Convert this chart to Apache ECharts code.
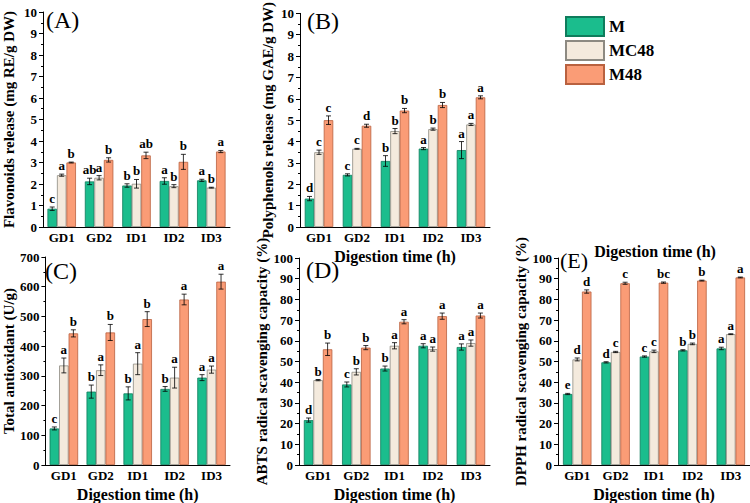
<!DOCTYPE html>
<html><head><meta charset="utf-8">
<script src="https://cdn.jsdelivr.net/npm/echarts@6/dist/echarts.min.js"></script>
<style>html,body{margin:0;padding:0;background:#fff}#c{width:750px;height:503px}</style>
</head><body><div id="c"></div>
<script>
const categories = ['GD1','GD2','ID1','ID2','ID3'];
const seriesNames = ['M','MC48','M48'];

// (A) Flavonoids release
const flavM = [0.85, 2.12, 1.93, 2.14, 2.17];
const flavMC48 = [2.41, 2.29, 2.01, 1.90, 1.83];
const flavM48 = [3.00, 3.12, 3.33, 3.03, 3.51];
const flavErrM = [0.08, 0.15, 0.08, 0.15, 0.05];
const flavErrMC48 = [0.05, 0.10, 0.20, 0.07, 0.02];
const flavErrM48 = [0.02, 0.10, 0.15, 0.35, 0.05];
const flavLetM = ['c','ab','b','a','a'];
const flavLetMC48 = ['a','a','b','b','b'];
const flavLetM48 = ['b','b','ab','b','a'];

// (B) Polyphenols release
const polyM = [1.33, 2.44, 3.09, 3.67, 3.60];
const polyMC48 = [3.50, 3.66, 4.49, 4.58, 4.80];
const polyM48 = [5.00, 4.74, 5.45, 5.71, 6.07];
const polyErrM = [0.10, 0.05, 0.25, 0.05, 0.40];
const polyErrMC48 = [0.10, 0.02, 0.12, 0.05, 0.05];
const polyErrM48 = [0.20, 0.07, 0.10, 0.12, 0.07];
const polyLetM = ['d','c','b','a','a'];
const polyLetMC48 = ['c','c','b','b','a'];
const polyLetM48 = ['c','d','b','b','a'];

// (C) Total antioxidant
const taM = [123, 247, 241, 256, 294];
const taMC48 = [335, 319, 341, 294, 321];
const taM48 = [443, 446, 491, 557, 617];
const taErrM = [5, 22, 22, 8, 10];
const taErrMC48 = [25, 18, 37, 35, 12];
const taErrM48 = [12, 27, 25, 18, 25];
const taLetM = ['c','b','b','b','a'];
const taLetMC48 = ['a','a','a','a','a'];
const taLetM48 = ['b','b','b','a','a'];

// (D) ABTS radical scavenging capacity
const abtsM = [21.7, 38.9, 46.6, 57.6, 57.0];
const abtsMC48 = [41.0, 45.0, 57.6, 56.0, 58.9];
const abtsM48 = [55.9, 56.7, 69.2, 71.9, 72.2];
const abtsErrM = [1.0, 1.2, 1.2, 1.0, 1.5];
const abtsErrMC48 = [0.3, 1.5, 1.5, 1.0, 1.5];
const abtsErrM48 = [3.0, 1.0, 1.0, 1.5, 1.2];
const abtsLetM = ['d','c','b','a','a'];
const abtsLetMC48 = ['b','b','a','a','a'];
const abtsLetM48 = ['b','b','a','a','a'];

// (E) DPPH radical scavenging capacity
const dpphM = [34.3, 49.6, 52.4, 55.4, 56.3];
const dpphMC48 = [51.0, 54.6, 54.9, 58.5, 63.2];
const dpphM48 = [83.8, 87.8, 88.1, 89.1, 90.6];
const dpphErrM = [0.3, 0.3, 0.3, 0.3, 0.6];
const dpphErrMC48 = [0.7, 0.3, 0.6, 0.4, 0.2];
const dpphErrM48 = [0.8, 0.5, 0.3, 0.2, 0.2];
const dpphLetM = ['e','d','c','b','a'];
const dpphLetMC48 = ['d','c','c','b','a'];
const dpphLetM48 = ['d','c','bc','b','a'];

const xTitle = 'Digestion time (h)';

const FONT = "'Liberation Serif','Times New Roman',serif";
const fills = ['#1bbd8d', '#f4eadd', '#fa9c76'];
const borders = ['#0f7c5c', '#8d8a82', '#b9613f'];
const BW = 9.5;

const panels = [
  {label:'(A)', yName:'Flavonoids release (mg RE/g DW)', max:10, interval:1,
   means:[flavM,flavMC48,flavM48], errs:[flavErrM,flavErrMC48,flavErrM48], lets:[flavLetM,flavLetMC48,flavLetM48],
   grid:{left:40, top:12, width:190, height:215}, nameGap:27, xName:'', lab:[46,8], fs:24},
  {label:'(B)', yName:'Polyphenols release (mg GAE/g DW)', max:10, interval:1,
   means:[polyM,polyMC48,polyM48], errs:[polyErrM,polyErrMC48,polyErrM48], lets:[polyLetM,polyLetMC48,polyLetM48],
   grid:{left:300, top:12, width:190, height:215}, nameGap:25, xName:xTitle, lab:[307,9], fs:24},
  {label:'(C)', yName:'Total antioxidant (U/g)', max:700, interval:100,
   means:[taM,taMC48,taM48], errs:[taErrM,taErrMC48,taErrM48], lets:[taLetM,taLetMC48,taLetM48],
   grid:{left:40, top:257, width:190, height:215}, nameGap:27, xName:xTitle, lab:[45,259], fs:24},
  {label:'(D)', yName:'ABTS radical scavenging capacity (%)', max:100, interval:10,
   means:[abtsM,abtsMC48,abtsM48], errs:[abtsErrM,abtsErrMC48,abtsErrM48], lets:[abtsLetM,abtsLetMC48,abtsLetM48],
   grid:{left:299, top:258, width:191, height:213}, nameGap:29, xName:xTitle, lab:[306,258], fs:24},
  {label:'(E)', yName:'DPPH radical scavenging capacity (%)', max:100, interval:10,
   means:[dpphM,dpphMC48,dpphM48], errs:[dpphErrM,dpphErrMC48,dpphErrM48], lets:[dpphLetM,dpphLetMC48,dpphLetM48],
   grid:{left:558, top:258, width:196, height:214}, nameGap:30, xName:xTitle, lab:[560,249], fs:22}
];

const grids = [], xAxes = [], yAxes = [], series = [], graphics = [];
panels.forEach((p, i) => {
  grids.push(Object.assign({containLabel:false}, p.grid));
  xAxes.push({
    type:'category', gridIndex:i, data:categories,
    axisLine:{lineStyle:{color:'#000', width:1}}, axisTick:{show:false},
    axisLabel:{color:'#000', fontFamily:FONT, fontWeight:'bold', fontSize:13, margin:4},
    name:p.xName, nameLocation:'middle', nameGap:21,
    nameTextStyle:{color:'#000', fontFamily:FONT, fontWeight:'bold', fontSize:16}
  });
  yAxes.push({
    type:'value', gridIndex:i, min:0, max:p.max, interval:p.interval,
    axisLine:{show:true, lineStyle:{color:'#000', width:1}},
    axisTick:{show:true, inside:false, length:4, lineStyle:{color:'#000'}},
    minorTick:{show:true, splitNumber:2, length:2, lineStyle:{color:'#000'}},
    splitLine:{show:false},
    axisLabel:{color:'#000', fontFamily:FONT, fontWeight:'bold', fontSize:13, margin:6},
    name:p.yName, nameLocation:'middle', nameGap:p.nameGap, nameRotate:90,
    nameTextStyle:{color:'#000', fontFamily:FONT, fontWeight:'bold', fontSize:15}
  });
  seriesNames.forEach((sn, k) => {
    series.push({
      type:'bar', name:sn, xAxisIndex:i, yAxisIndex:i,
      data:p.means[k], barWidth:BW, barGap:'0%',
      itemStyle:{color:fills[k], borderColor:borders[k], borderWidth:0.8},
      emphasis:{disabled:true}, z:2
    });
  });
  seriesNames.forEach((sn, k) => {
    const data = categories.map((c, j) => [j, p.means[k][j], p.errs[k][j], p.lets[k][j]]);
    series.push({
      type:'custom', name:sn + ' err', xAxisIndex:i, yAxisIndex:i, data:data, z:5,
      silent:true,
      renderItem:(params, api) => {
        const x = api.value(0), m = api.value(1), e = api.value(2);
        const letter = data[params.dataIndex][3];
        const off = (k - 1) * BW;
        const top = api.coord([x, m + e]);
        const bot = api.coord([x, m - e]);
        const cx = top[0] + off;
        const cap = 2.5;
        return {type:'group', children:[
          {type:'line', shape:{x1:cx, y1:top[1], x2:cx, y2:bot[1]}, style:{stroke:'#000', lineWidth:0.8}},
          {type:'line', shape:{x1:cx-cap, y1:top[1], x2:cx+cap, y2:top[1]}, style:{stroke:'#000', lineWidth:0.8}},
          {type:'line', shape:{x1:cx-cap, y1:bot[1], x2:cx+cap, y2:bot[1]}, style:{stroke:'#000', lineWidth:0.8}},
          {type:'text', x:cx, y:top[1]-2, style:{text:letter, fill:'#000', font:'bold 13px ' + FONT, textAlign:'center', textVerticalAlign:'bottom'}}
        ]};
      }
    });
  });
  graphics.push({type:'text', left:p.lab[0], top:p.lab[1], style:{text:p.label, fill:'#000', font:p.fs + 'px ' + FONT}});
});
graphics.push({type:'text', x:655, y:251, style:{text:xTitle, fill:'#000', font:'bold 16px ' + FONT, textAlign:'center', textVerticalAlign:'middle'}});

const chart = echarts.init(document.getElementById('c'), null, {renderer:'svg'});
chart.setOption({
  animation:false,
  backgroundColor:'#fff',
  legend:{data:seriesNames, orient:'vertical', left:565, top:16, padding:0, itemGap:3, itemWidth:38, itemHeight:19, icon:'rect',
    textStyle:{color:'#000', fontFamily:FONT, fontWeight:'bold', fontSize:17}, selectedMode:false},
  grid:grids, xAxis:xAxes, yAxis:yAxes, series:series, graphic:graphics
});
</script></body></html>
